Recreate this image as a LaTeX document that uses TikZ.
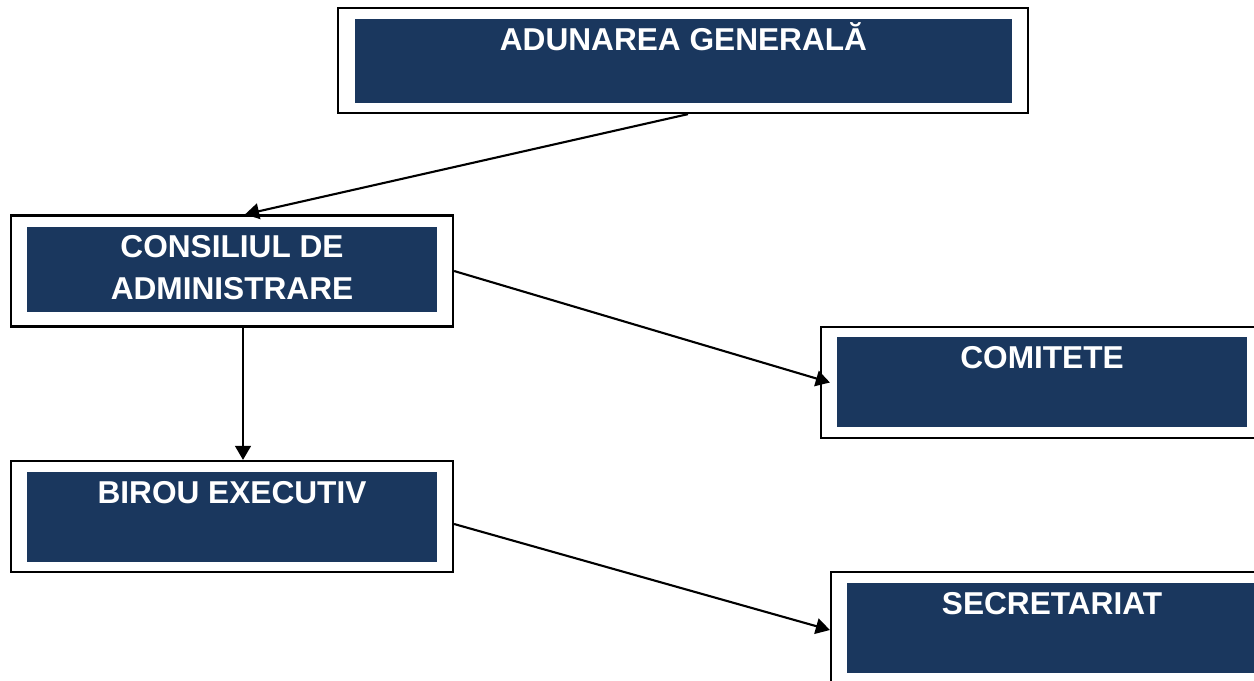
\documentclass[tikz,border=0pt]{standalone}
\usepackage{fontspec}
\setmainfont{Liberation Sans}
\usetikzlibrary{arrows.meta}
\definecolor{navy}{HTML}{1A375E}

\begin{document}
\begin{tikzpicture}
        [x=0.02cm, y=-0.02cm,
        outer/.style={draw=black, line width=1.3pt, fill=white, minimum width=8.84cm, minimum height=2.22cm, inner sep=0},
        inner/.style={fill=navy, minimum width=8.2cm, minimum height=1.8cm, inner sep=0},
        title/.style={anchor=base, text=white, align=center, inner sep=0, font=\bfseries\fontsize{18}{24}\selectfont},
        arrow/.style={line width=1.2pt, -{Triangle[length=8pt, width=9pt]}}]

        \useasboundingbox (0,0) rectangle (1254,680);
        \clip (0,0) rectangle (1254,680);

        % outer frames
        \node[outer, minimum width=13.8cm, minimum height=2.1cm] (ag) at (683,60.5) {};
        \node[outer] (ca) at (232,271) {};
        \node[outer] (be) at (232,516.5) {};
        \node[outer] (com) at (1042,382.5) {};
        \node[outer] (sec) at (1052,627.5) {};

        % filled boxes
        \node[inner, minimum width=13.14cm, minimum height=1.68cm] (ag-in) at (683.5,61) {};
        \node[inner, minimum height=1.7cm] (ca-in) at (232,269.5) {};
        \node[inner] (be-in) at (232,517) {};
        \node[inner] (com-in) at (1042,382) {};
        \node[inner] (sec-in) at (1052,628) {};

        % titles (base is the last line)
        \node[title] (ag-t) at ([yshift=-0.64cm]ag-in.north) {ADUNAREA GENERALĂ};
        \node[title] (ca-t) at ([yshift=-1.46cm]ca-in.north) {CONSILIUL DE\\ADMINISTRARE};
        \node[title] (be-t) at ([yshift=-0.64cm]be-in.north) {BIROU EXECUTIV};
        \node[title] (com-t) at ([yshift=-0.64cm]com-in.north) {COMITETE};
        \node[title] (sec-t) at ([yshift=-0.64cm]sec-in.north) {SECRETARIAT};

        % arrows
        \draw[arrow] ([xshift=0.1cm]ag.south) -- ([xshift=0.26cm]ca.north);
        \draw[arrow] ([xshift=0.22cm]ca.south) -- ([xshift=0.22cm]be.north);
        \draw[arrow] (ca.east) -- ([xshift=0.2cm]com.west);
        \draw[arrow] ([yshift=-0.15cm]be.east) -- ([yshift=-0.05cm]sec.west);

    \end{tikzpicture}
\end{document}
